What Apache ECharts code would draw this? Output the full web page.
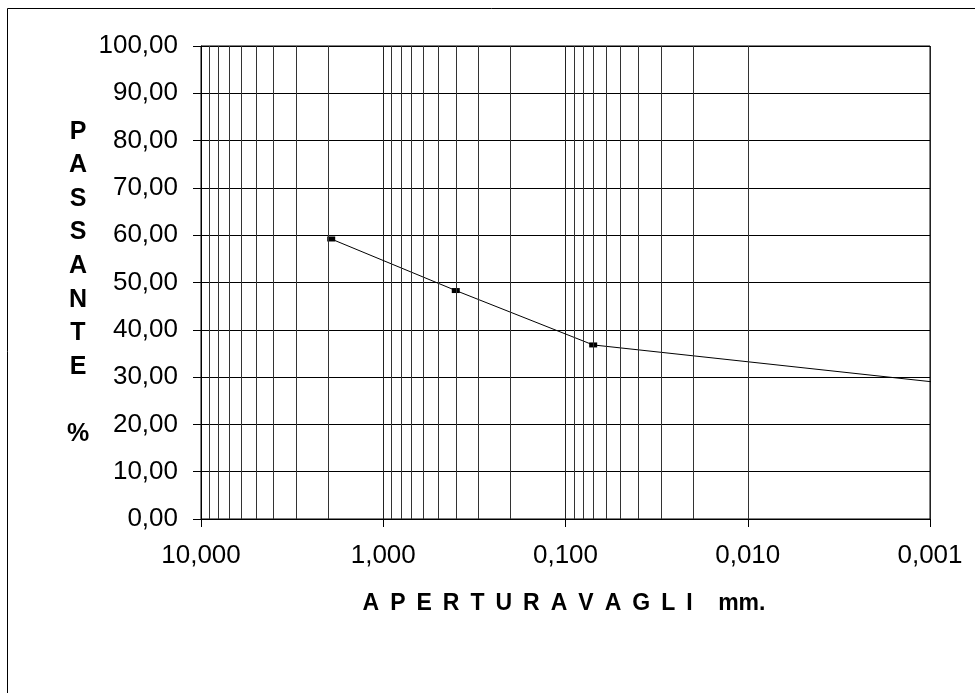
<!DOCTYPE html>
<html>
<head>
<meta charset="utf-8">
<script src="https://cdn.jsdelivr.net/npm/echarts@6/dist/echarts.min.js"></script>
<style>
html,body{margin:0;padding:0;background:#fff;}
#chart{width:975px;height:693px;}
</style>
</head>
<body>
<div id="chart"></div>
<script>
// Sieve apertures (mm) and percent passing
const apertures = [1.93, 0.40, 0.0705, 0.00092];
const passing = [59.2, 48.3, 36.8, 28.9];
const markerShown = [true, true, true, false];

// Axis settings
const yTicks = [0, 10, 20, 30, 40, 50, 60, 70, 80, 90, 100];
const xDecades = [10, 1, 0.1, 0.01, 0.001];
const minorMultipliers = [2, 3, 4, 5, 6, 7, 8, 9];
const minorDecades = [1, 0.1, 0.01, 0.001];

const yTitleLetters = ['P', 'A', 'S', 'S', 'A', 'N', 'T', 'E', '', '%'];
const xTitleWords = ['APERTURA', 'VAGLI'];
const xTitleUnit = 'mm.';

const minorLines = [];
minorDecades.forEach(d => minorMultipliers.forEach(m => minorLines.push({ xAxis: +(d * m).toPrecision(3) })));

const seriesData = apertures.map((a, i) => ({
  value: [a, passing[i]],
  symbol: markerShown[i] ? 'rect' : 'none'
}));

const gap = ' \u2009';
const xTitle = xTitleWords.map(w => w.split('').join(gap)).join(gap) + '    ' + xTitleUnit;

const chart = echarts.init(document.getElementById('chart'), null, { renderer: 'canvas' });
const font = 'Liberation Sans, Arial, sans-serif';
chart.setOption({
  animation: false,
  backgroundColor: '#fff',
  grid: { left: 201, right: 45, top: 46, height: 473, show: true, borderColor: '#000', borderWidth: 1, backgroundColor: 'transparent' },
  xAxis: {
    type: 'log', logBase: 10, min: 0.001, max: 10, inverse: true,
    axisLine: { show: true, onZero: false, lineStyle: { color: '#000', width: 1 } },
    axisTick: { show: true, length: 8, inside: false, lineStyle: { color: '#000' } },
    axisLabel: {
      color: '#000', fontFamily: font, fontSize: 26, margin: 24,
      formatter: v => Number(v).toFixed(3).replace('.', ',')
    },
    splitLine: { show: true, lineStyle: { color: '#222', width: 1 } },
    minorTick: { show: false }, minorSplitLine: { show: false }
  },
  yAxis: {
    type: 'value', min: 0, max: 100, interval: 10,
    axisLine: { show: true, lineStyle: { color: '#000', width: 1 } },
    axisTick: { show: true, length: 8, lineStyle: { color: '#000' } },
    axisLabel: {
      color: '#000', fontFamily: font, fontSize: 26, margin: 23,
      formatter: v => Number(v).toFixed(2).replace('.', ',')
    },
    splitLine: { show: true, lineStyle: { color: '#000', width: 1 } }
  },
  graphic: [
    { type: 'rect', silent: true, shape: { x: 7.5, y: 8.5, width: 1200, height: 1200 }, style: { fill: 'none', stroke: '#000', lineWidth: 1 } },
    { type: 'text', x: 564, y: 604, style: { text: xTitle, align: 'center', verticalAlign: 'middle', font: 'bold 23px ' + font, fill: '#000' } },
    { type: 'text', x: 78, y: 283, style: { text: yTitleLetters.join('\n'), font: 'bold 25px ' + font, fill: '#000', align: 'center', verticalAlign: 'middle', lineHeight: 33.6 } }
  ],
  series: [
    {
      type: 'line', data: seriesData, clip: false,
      symbolSize: [8, 5],
      lineStyle: { color: '#000', width: 1 },
      itemStyle: { color: '#000' },
      markLine: {
        silent: true, symbol: 'none', animation: false,
        label: { show: false },
        lineStyle: { color: '#333', width: 1, type: 'solid' },
        data: minorLines
      }
    }
  ]
});
</script>
</body>
</html>
